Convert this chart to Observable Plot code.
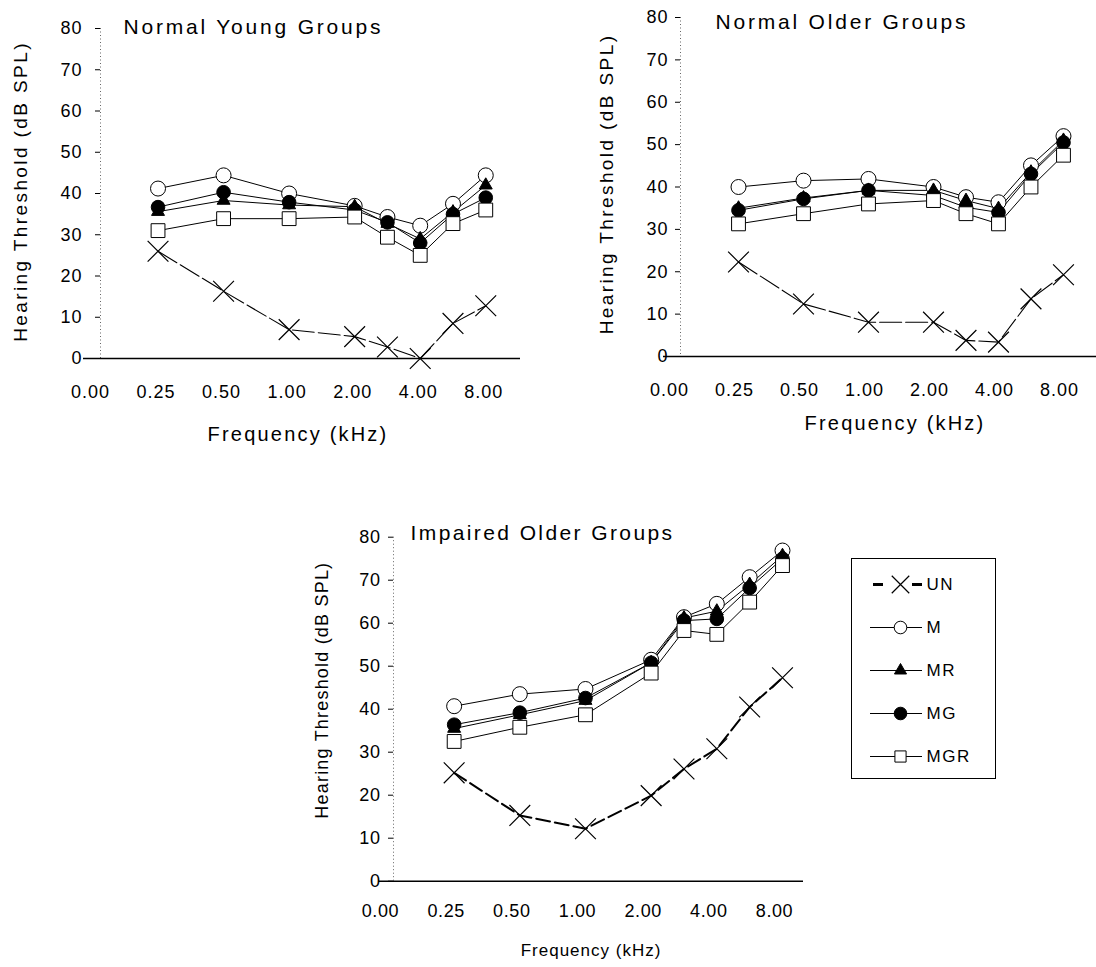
<!DOCTYPE html>
<html>
<head>
<meta charset="utf-8">
<script src="https://cdn.jsdelivr.net/npm/d3@7"></script>
<script src="https://cdn.jsdelivr.net/npm/@observablehq/plot@0.6"></script>
<style>
  html, body { margin: 0; padding: 0; background: #fff; }
  body { width: 1096px; height: 967px; position: relative; overflow: hidden; font-family: "Liberation Sans", Arial, sans-serif; }
  .panel { position: absolute; }
</style>
</head>
<body>
<div id="p1" class="panel" style="left:0px;top:0px;width:520px"></div>
<div id="p2" class="panel" style="left:560px;top:0px;width:536px"></div>
<div id="p3" class="panel" style="left:290px;top:500px;width:520px"></div>
<div id="lg" class="panel" style="left:850px;top:557px;width:146px"></div>
<script>
// ---------------- data ----------------
const freqs = [0.25, 0.5, 1, 2, 3, 4, 6, 8];            // kHz, measured frequencies
const tickFreqs = [0, 0.25, 0.5, 1, 2, 4, 8];           // labelled axis positions
const tickLabels = ["0.00", "0.25", "0.50", "1.00", "2.00", "4.00", "8.00"];
const yTicks = [0, 10, 20, 30, 40, 50, 60, 70, 80];
const seriesNames = ["UN", "M", "MR", "MG", "MGR"];

// Normal Young Groups
const youngUN  = [26, 16.3, 7, 5.3, 2.8, 0, 8.5, 12.8];
const youngM   = [41.2, 44.4, 40, 37, 34.3, 32.2, 37.5, 44.4];
const youngMR  = [35.6, 38.3, 37.2, 36.8, 32.7, 29, 35.5, 42];
const youngMG  = [36.7, 40.3, 37.9, 36, 33, 28, 35, 39];
const youngMGR = [31, 33.9, 33.9, 34.3, 29.4, 25, 32.7, 36];

// Normal Older Groups
const olderUN  = [22.3, 12.4, 8.1, 8.1, 3.8, 3.4, 13.6, 19.3];
const olderM   = [40, 41.5, 41.9, 40, 37.6, 36.4, 45.1, 52];
const olderMR  = [35, 37.4, 39.2, 39.2, 36.8, 34.9, 43.5, 51];
const olderMG  = [34.5, 37.2, 39.2, 38, 35.2, 34, 43.1, 50.5];
const olderMGR = [31.3, 33.7, 36, 36.8, 33.7, 31.3, 40, 47.5];

// Impaired Older Groups
const impairedUN  = [25.2, 15.3, 12.2, 19.9, 26.1, 30.8, 40.5, 47.3];
const impairedM   = [40.7, 43.5, 44.7, 51.5, 61.4, 64.5, 70.7, 76.9];
const impairedMR  = [35.5, 38.7, 42, 50.8, 61.2, 62.8, 69, 75.7];
const impairedMG  = [36.4, 39.2, 42.6, 50.8, 60.6, 61, 68.2, 75];
const impairedMGR = [32.5, 35.8, 38.7, 48.4, 58.3, 57.4, 64.9, 73.4];

// ---------------- helpers ----------------
// axis position: labelled frequencies evenly spaced, intermediate ones linear between neighbours
const toIndex = d3.scaleLinear().domain(tickFreqs).range(d3.range(tickFreqs.length));
const tickIdx = d3.range(tickFreqs.length);

const seriesStyle = {
  UN:  {symbol: "times",    r: 9.5, fill: "none",  stroke: "black", strokeWidth: 1.2},
  M:   {symbol: "circle",   r: 7.5, fill: "white", stroke: "black", strokeWidth: 1},
  MR:  {symbol: "triangle", r: 4.8, fill: "black", stroke: "black", strokeWidth: 1},
  MG:  {symbol: "circle",   r: 6.8, fill: "black", stroke: "black", strokeWidth: 1},
  MGR: {symbol: "square",   r: 7.8, fill: "white", stroke: "black", strokeWidth: 1}
};
const drawOrder = ["M", "MG", "MR", "MGR", "UN"];
const FONT = '"Liberation Sans", Arial, Helvetica, sans-serif';

function makePanel(p) {
  const rows = seriesNames.flatMap(s => freqs.map((f, i) => ({series: s, freq: f, value: p.data[s][i]})));
  const marks = [
    Plot.ruleX([p.xDomain[0]], {dx: p.axisDx, stroke: "#666", strokeWidth: 1, strokeDasharray: "1,2.5"}),
    Plot.ruleY([0], {stroke: "black", strokeWidth: 1.5}),
    Plot.axisY({ticks: yTicks, tickSize: 5, tickPadding: p.tickPadY, dx: p.axisDx, fontSize: p.tickFont, label: null}),
    Plot.axisX({ticks: tickIdx, tickFormat: i => tickLabels[i], tickSize: 0, tickPadding: p.tickPadX, dx: p.tickDxX, fontSize: p.tickFont, label: null})
  ];
  for (const s of seriesNames) {
    const isUN = s === "UN";
    marks.push(Plot.line(rows.filter(d => d.series === s), {
      x: d => toIndex(d.freq), y: "value", stroke: "black",
      strokeWidth: isUN ? p.unWidth : 1,
      strokeDasharray: isUN ? p.unDash : null
    }));
  }
  for (const s of drawOrder) {
    const st = seriesStyle[s];
    marks.push(Plot.dot(rows.filter(d => d.series === s), {
      x: d => toIndex(d.freq), y: "value",
      symbol: st.symbol, r: st.r, fill: st.fill, stroke: st.stroke, strokeWidth: st.strokeWidth
    }));
  }
  marks.push(Plot.text([p.title], {frameAnchor: "top-left", textAnchor: "start", lineAnchor: "top", dx: p.titleDx, dy: p.titleDy, fontSize: p.titleFont}));
  marks.push(Plot.text([p.ylabel], {frameAnchor: "left", textAnchor: "middle", lineAnchor: "middle", rotate: -90, dx: p.ylabDx, dy: p.ylabDy, fontSize: p.labFont}));
  marks.push(Plot.text([p.xlabel], {frameAnchor: "bottom", textAnchor: "middle", lineAnchor: "middle", dx: p.xlabDx, dy: p.xlabDy, fontSize: p.xlabFont}));

  const svg = Plot.plot({
    width: p.width, height: p.height,
    marginLeft: p.mL, marginRight: p.mR, marginTop: p.mT, marginBottom: p.mB,
    x: {domain: p.xDomain},
    y: {domain: [0, 80]},
    style: {fontFamily: FONT, fontSize: "18px", color: "black", background: "transparent", letterSpacing: p.tickLS + "px"},
    marks
  });
  d3.select(svg).selectAll("text").each(function () {
    const t = this.textContent;
    if (t === p.title) this.style.letterSpacing = p.titleLS + "px";
    else if (t === p.ylabel) this.style.letterSpacing = p.ylabLS + "px";
    else if (t === p.xlabel) this.style.letterSpacing = p.xlabLS + "px";
  });
  return svg;
}

const common = {
  ylabel: "Hearing Threshold (dB SPL)",
  xlabel: "Frequency (kHz)"
};

document.getElementById("p1").appendChild(makePanel({
  ...common,
  title: "Normal Young Groups",
  data: {UN: youngUN, M: youngM, MR: youngMR, MG: youngMG, MGR: youngMGR},
  width: 520, height: 460, mL: 83, mR: 0, mT: 28, mB: 102,
  xDomain: [-0.137, 6.53],
  axisDx: 17, tickPadY: 13, tickPadX: 27, tickDxX: -2, tickFont: 18, tickLS: 1,
  titleDx: 40, titleDy: -9, titleFont: 21, titleLS: 2.8,
  ylabDx: -63, ylabDy: -2, labFont: 19, ylabLS: 2.4,
  xlabDx: -4, xlabDy: 76, xlabFont: 20, xlabLS: 2.2,
  unWidth: 1.1, unDash: "22,4"
}));

document.getElementById("p2").appendChild(makePanel({
  ...common,
  title: "Normal Older Groups",
  data: {UN: olderUN, M: olderM, MR: olderMR, MG: olderMG, MGR: olderMGR},
  width: 536, height: 440, mL: 103, mR: 0, mT: 17, mB: 84,
  xDomain: [-0.154, 6.508],
  axisDx: 17, tickPadY: 7, tickPadX: 27, tickDxX: -4, tickFont: 18, tickLS: 1,
  titleDx: 52, titleDy: -3, titleFont: 21, titleLS: 2.8,
  ylabDx: -57, ylabDy: -3, labFont: 19, ylabLS: 2.4,
  xlabDx: 15, xlabDy: 67, xlabFont: 20, xlabLS: 2.2,
  unWidth: 1.1, unDash: "22,4"
}));

document.getElementById("p3").appendChild(makePanel({
  ...common,
  title: "Impaired Older Groups",
  data: {UN: impairedUN, M: impairedM, MR: impairedMR, MG: impairedMG, MGR: impairedMGR},
  width: 520, height: 467, mL: 88, mR: 7, mT: 36.7, mB: 86.3,
  xDomain: [-0.152, 6.32],
  axisDx: 15, tickPadY: 8, tickPadX: 23, tickDxX: -8, tickFont: 18, tickLS: 0.6,
  titleDx: 32, titleDy: -12, titleFont: 21, titleLS: 2.4,
  ylabDx: -56, ylabDy: -19, labFont: 18, ylabLS: 1.2,
  xlabDx: 0, xlabDy: 69, xlabFont: 17, xlabLS: 1,
  unWidth: 2, unDash: "14,5"
}));

// ---------------- legend ----------------
const legendLines = seriesNames.filter(s => s !== "UN");
const legendMarks = [
  Plot.frame({stroke: "black", strokeWidth: 1, inset: 1}),
  Plot.ruleY(legendLines, {x1: 20, x2: 72, stroke: "black", strokeWidth: 1}),
  Plot.ruleY(["UN"], {x1: 23, x2: 72, stroke: "black", strokeWidth: 3, strokeDasharray: "10,29,10"})
];
for (const s of seriesNames) {
  const st = seriesStyle[s];
  legendMarks.push(Plot.dot([s], {
    x: () => 50, y: d => d, symbol: st.symbol,
    r: s === "UN" ? 8 : s === "MR" ? 4.5 : 6.3,
    fill: st.fill, stroke: st.stroke, strokeWidth: st.strokeWidth
  }));
}
legendMarks.push(Plot.text(seriesNames, {x: () => 76, y: d => d, text: d => d, textAnchor: "start", fontSize: 17}));
document.getElementById("lg").appendChild(Plot.plot({
  width: 146, height: 222, margin: 0,
  x: {domain: [0, 146], axis: null},
  y: {type: "point", domain: seriesNames, axis: null, padding: 0, insetTop: 26, insetBottom: 22},
  style: {fontFamily: FONT, fontSize: "17px", color: "black", background: "transparent", letterSpacing: "1.5px"},
  marks: legendMarks
}));
</script>
</body>
</html>
